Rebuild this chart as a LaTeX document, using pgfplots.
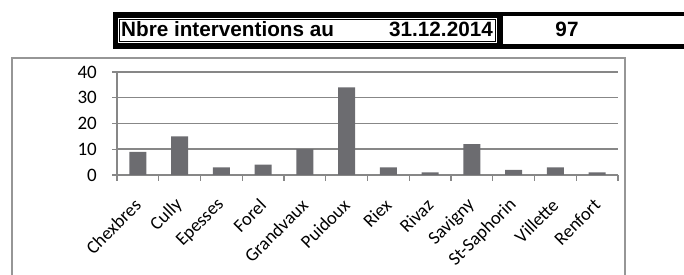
\documentclass[border=0pt]{standalone}
\usepackage{pgfplots}
\pgfplotsset{compat=1.18}
\usepackage{fontspec}
\setmainfont{Carlito}
\newfontfamily\hdr{Liberation Sans}
\definecolor{bar}{RGB}{108,108,112}
\definecolor{gridc}{RGB}{135,135,135}
\definecolor{framec}{RGB}{150,150,150}
\begin{document}
\begin{tikzpicture}
\path[use as bounding box] (0pt,0pt) rectangle (684pt,275pt);
\clip (0pt,0pt) rectangle (684pt,275pt);
% header
\fill[black] (113pt,226pt) rectangle (700pt,263pt);
\fill[white] (118pt,232pt) rectangle (497pt,257pt);
\draw[black,line width=0.8pt] (119.5pt,233.5pt) rectangle (495.5pt,255.5pt);
\fill[white] (503pt,231pt) rectangle (700pt,259pt);
\node[anchor=base west,inner sep=0pt,font=\hdr\bfseries\fontsize{20.7}{22}\selectfont] at (121pt,238pt) {Nbre interventions au};
\node[anchor=base east,inner sep=0pt,font=\hdr\bfseries\fontsize{20.7}{22}\selectfont] at (493pt,238pt) {31.12.2014};
\node[anchor=base,inner sep=0pt,font=\hdr\bfseries\fontsize{20.7}{22}\selectfont] at (567pt,238pt) {97};
% outer frame
\draw[framec,line width=1.8pt] (12pt,-10pt) rectangle (625pt,217pt);
\begin{axis}[
  at={(117pt,100pt)}, anchor=south west,
  scale only axis, width=501pt, height=103pt,
  xmin=-0.5, xmax=11.5, ymin=0, ymax=40,
  ytick={0,10,20,30,40},
  xtick={0,...,11},
  xticklabels={Chexbres,Cully,Epesses,Forel,Grandvaux,Puidoux,Riex,Rivaz,Savigny,St-Saphorin,Villette,Renfort},
  minor xtick={-0.5,0.5,...,11.5},
  major x tick style={draw=none},
  minor tick length=6pt,
  major tick length=5pt,
  tick align=outside,
  tick style={gridc,line width=1.2pt},
  axis x line*=bottom, axis y line*=left,
  axis line style={gridc,line width=1.6pt,-},
  ymajorgrids, grid style={gridc,line width=1.5pt},
  xticklabel style={xshift=0pt,yshift=-22pt,rotate=45,anchor=east,font=\fontsize{18.5}{19}\selectfont,inner sep=0pt},
  yticklabel style={font=\fontsize{19}{20}\selectfont,inner sep=0pt,xshift=-15pt},
  /pgf/number format/assume math mode=true,
  clip=false,
]
\addplot[ybar,bar width=17pt,fill=bar,draw=none] coordinates {
(0,9) (1,15) (2,3) (3,4) (4,10) (5,34) (6,3) (7,1) (8,12) (9,2) (10,3) (11,1)};
\end{axis}
\end{tikzpicture}
\end{document}
